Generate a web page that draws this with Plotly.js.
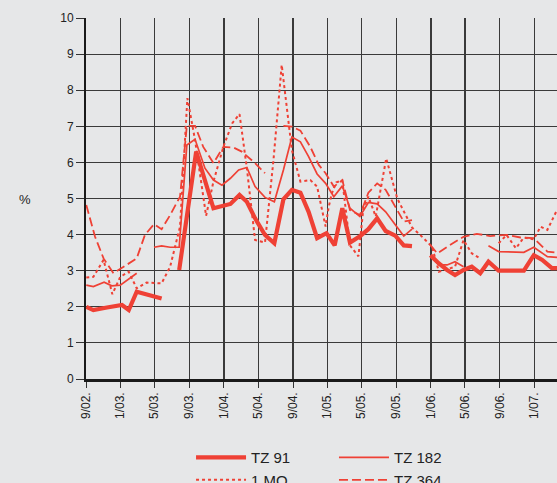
<!DOCTYPE html>
<html>
<head>
<meta charset="utf-8">
<script src="https://cdn.plot.ly/plotly-3.0.1.min.js"></script>
<style>html,body{margin:0;padding:0;background:#e6e7e8;}#chart{width:557px;height:483px;}</style>
</head>
<body>
<div id="chart"></div>
<script>
// Tick labels
var tickDates = ['2002-09-01','2003-01-01','2003-05-01','2003-09-01','2004-01-01','2004-05-01','2004-09-01','2005-01-01','2005-05-01','2005-09-01','2006-01-01','2006-05-01','2006-09-01','2007-01-01'];
var tickLabels = ['9/02.','1/03.','5/03.','9/03.','1/04.','5/04.','9/04.','1/05.','5/05.','9/05.','1/06.','5/06.','9/06.','1/07.'];

// TZ 91
var tz91Dates = ['2002-09-02','2002-09-27','2002-11-14','2003-01-06','2003-01-30','2003-02-27','2003-05-26','2003-07-10','2003-07-27','2003-09-25','2003-11-25','2004-01-24','2004-02-25','2004-03-22','2004-04-20','2004-05-25','2004-06-27','2004-07-29','2004-08-28','2004-09-27','2004-10-26','2004-11-25','2004-12-28','2005-01-26','2005-02-22','2005-03-21','2005-04-25','2005-05-25','2005-06-25','2005-07-25','2005-08-28','2005-09-27','2005-10-26','2005-12-10','2005-12-30','2006-01-29','2006-02-27','2006-03-27','2006-04-26','2006-05-25','2006-06-24','2006-07-23','2006-08-28','2006-11-25','2006-12-30','2007-01-29','2007-03-04','2007-03-22'];
var tz91Values = [2.00,1.91,1.98,2.05,1.91,2.42,2.23,null,3.02,6.30,4.73,4.85,5.10,4.91,4.45,3.99,3.76,4.98,5.24,5.16,4.63,3.90,4.04,3.70,4.73,3.78,3.95,4.15,4.45,4.10,3.97,3.70,3.68,null,3.43,3.20,3.02,2.88,3.02,3.11,2.93,3.25,3.00,3.00,3.43,3.30,3.07,3.07];

// TZ 182
var tz182Dates = ['2002-09-02','2002-09-27','2002-11-04','2002-12-01','2002-12-31','2003-01-30','2003-02-27','2003-04-10','2003-04-29','2003-05-26','2003-06-25','2003-07-27','2003-08-23','2003-09-21','2003-10-26','2003-11-25','2003-12-25','2004-01-24','2004-02-22','2004-03-22','2004-04-20','2004-05-25','2004-06-27','2004-07-29','2004-08-28','2004-09-27','2004-10-26','2004-11-25','2004-12-25','2005-01-23','2005-02-22','2005-03-21','2005-04-25','2005-05-25','2005-06-25','2005-07-25','2005-08-28','2005-09-27','2005-10-26','2005-12-10','2006-01-05','2006-01-29','2006-02-27','2006-03-27','2006-04-26','2006-06-10','2006-07-23','2006-08-28','2006-11-25','2006-12-30','2007-02-16','2007-03-22'];
var tz182Values = [2.60,2.56,2.68,2.58,2.60,2.76,2.93,null,3.65,3.69,3.65,3.65,6.48,6.64,5.84,5.51,5.37,5.56,5.79,5.86,5.33,5.03,4.91,5.79,6.70,6.57,6.16,5.68,5.42,5.05,5.35,4.73,4.50,4.89,4.85,4.63,4.27,3.96,4.15,null,3.34,3.16,3.16,3.25,3.11,null,3.69,3.53,3.51,3.65,3.39,3.37];

// 1 MO
var mo1Dates = ['2002-09-02','2002-09-27','2002-11-02','2002-12-03','2002-12-31','2003-01-30','2003-02-27','2003-04-03','2003-05-26','2003-06-25','2003-07-30','2003-08-25','2003-09-21','2003-10-30','2003-11-25','2003-12-30','2004-01-30','2004-02-25','2004-03-22','2004-04-20','2004-05-25','2004-06-24','2004-07-23','2004-08-28','2004-09-27','2004-11-01','2004-11-25','2004-12-25','2005-01-05','2005-01-16','2005-02-01','2005-02-22','2005-03-21','2005-04-20','2005-05-07','2005-05-25','2005-06-20','2005-07-27','2005-09-04','2005-10-26','2005-12-06','2006-01-05','2006-01-29','2006-03-27','2006-04-26','2006-05-25','2006-06-24','2006-07-20','2006-08-28','2006-09-25','2006-10-28','2006-11-25','2006-12-30','2007-01-23','2007-02-16','2007-03-22'];
var mo1Values = [2.81,2.83,3.30,2.35,2.83,2.97,2.51,2.67,2.65,3.11,4.22,7.78,6.62,4.52,5.47,6.43,7.08,7.34,5.84,3.85,3.78,6.07,8.70,6.34,5.47,5.51,5.33,4.22,4.77,5.14,5.45,5.50,3.70,3.40,4.70,5.05,4.50,6.11,5.00,4.20,3.90,3.66,2.97,3.11,3.85,3.48,3.34,null,3.76,3.99,3.62,3.92,3.87,4.22,4.13,4.68];

// TZ 364
var tz364Dates = ['2002-09-02','2002-10-03','2002-11-02','2002-12-07','2003-01-12','2003-02-27','2003-03-28','2003-04-29','2003-05-26','2003-06-25','2003-07-30','2003-08-23','2003-09-21','2003-10-20','2003-11-25','2003-12-30','2004-02-04','2004-03-04','2004-04-20','2004-05-25','2004-06-20','2004-07-29','2004-08-28','2004-09-27','2004-11-01','2004-12-01','2004-12-25','2005-01-23','2005-02-22','2005-03-21','2005-04-25','2005-05-25','2005-06-25','2005-07-25','2005-08-28','2005-09-27','2005-10-26','2005-12-10','2005-12-30','2006-01-23','2006-03-09','2006-04-26','2006-06-12','2006-07-29','2006-09-25','2006-11-13','2006-12-30','2007-02-16','2007-03-22'];
var tz364Values = [4.82,3.94,3.34,2.93,3.11,3.34,3.99,4.29,4.15,4.54,5.05,7.01,7.01,6.43,5.98,6.43,6.41,6.30,5.98,5.70,null,7.01,6.99,6.88,6.43,5.93,5.70,5.33,5.51,4.68,4.54,5.16,5.42,5.24,4.77,4.36,4.40,null,3.71,3.48,3.71,3.94,4.02,3.96,3.99,3.92,3.90,3.53,3.50];

var red = '#ef4135';
var traces = [
  {x: tz91Dates, y: tz91Values, name: 'TZ 91', mode: 'lines', line: {color: red, width: 4.2}, legend: 'legend'},
  {x: tz182Dates, y: tz182Values, name: 'TZ 182', mode: 'lines', line: {color: red, width: 1.7}, legend: 'legend2'},
  {x: mo1Dates, y: mo1Values, name: '1 MO', mode: 'lines', line: {color: red, width: 2, dash: 'dot'}, legend: 'legend'},
  {x: tz364Dates, y: tz364Values, name: 'TZ 364', mode: 'lines', line: {color: red, width: 1.8, dash: '9px,4px'}, legend: 'legend2'}
];
traces.forEach(function(t){ t.connectgaps = false; t.hoverinfo = 'skip'; });

var font = {family: '"Liberation Sans", Arial, Helvetica, sans-serif', size: 12, color: '#222'};
var legFont = {family: font.family, size: 15, color: '#222'};
var layout = {
  width: 557, height: 483,
  margin: {l: 86, r: 0, t: 18, b: 104, pad: 0, autoexpand: false},
  paper_bgcolor: '#e6e7e8', plot_bgcolor: '#e6e7e8',
  font: font,
  showlegend: true,
  xaxis: {
    type: 'date', range: ['2002-09-01', '2007-03-22'],
    tickmode: 'array', tickvals: tickDates, ticktext: tickLabels,
    tickangle: -90, ticks: 'outside', ticklen: 6, tickcolor: '#333', tickwidth: 1,
    showgrid: true, gridcolor: '#3a3a3a', gridwidth: 1.2,
    showline: true, linecolor: '#1a1a1a', linewidth: 2.5,
    zeroline: false, fixedrange: true, tickfont: font
  },
  yaxis: {
    range: [0, 10], dtick: 1, tick0: 0,
    ticks: 'outside', ticklen: 8, tickcolor: '#333', tickwidth: 1,
    showgrid: true, gridcolor: '#3a3a3a', gridwidth: 1.2,
    showline: true, linecolor: '#1a1a1a', linewidth: 2,
    zeroline: false, fixedrange: true, tickfont: font
  },
  legend: {
    orientation: 'v', x: 0.223, xanchor: 'left', y: -0.172, yanchor: 'top',
    bgcolor: 'rgba(0,0,0,0)', font: legFont, itemwidth: 50, traceorder: 'normal'
  },
  legend2: {
    orientation: 'v', x: 0.5265, xanchor: 'left', y: -0.172, yanchor: 'top',
    bgcolor: 'rgba(0,0,0,0)', font: legFont, itemwidth: 50, traceorder: 'normal'
  },
  annotations: [{
    text: '%', xref: 'paper', yref: 'paper', x: -0.146, y: 0.496,
    showarrow: false, font: {family: font.family, size: 13, color: '#222'}
  }]
};
Plotly.newPlot('chart', traces, layout, {staticPlot: true, displayModeBar: false});
</script>
</body>
</html>
